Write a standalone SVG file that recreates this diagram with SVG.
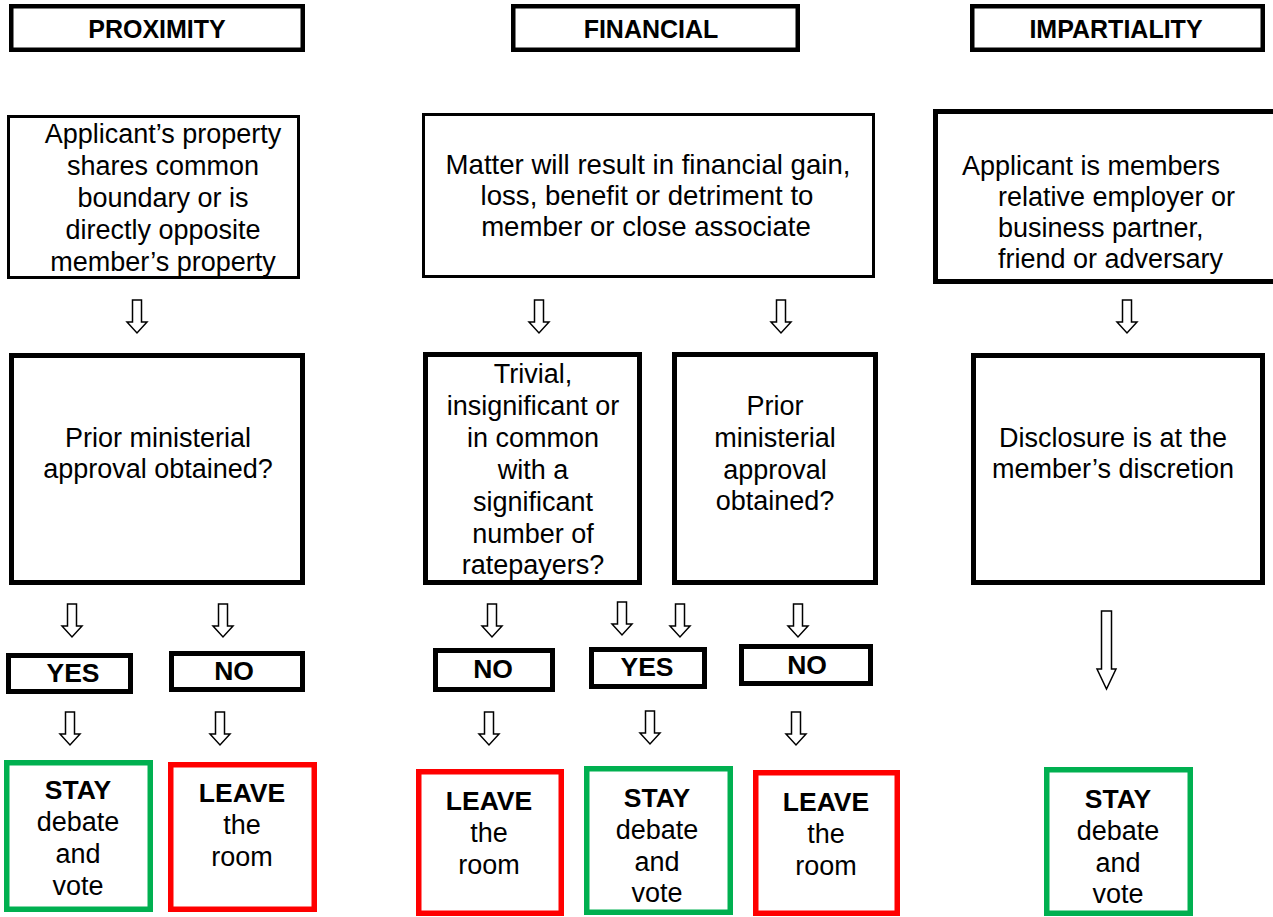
<svg xmlns="http://www.w3.org/2000/svg" xmlns:xlink="http://www.w3.org/1999/xlink" width="1273" height="917" viewBox="0 0 1273 917">
<style>
.bg{fill:#fff}
.hdr{fill:#fff;stroke:#000;stroke-width:4.5}
.q1{fill:#fff;stroke:#000;stroke-width:3}
.q2{fill:#fff;stroke:#000;stroke-width:5}
.yn{fill:#fff;stroke:#000;stroke-width:5}
.stay{fill:#fff;stroke:#00B050;stroke-width:5.5}
.leave{fill:#fff;stroke:#FF0000;stroke-width:5.5}
.arr{fill:#fff;stroke:#000;stroke-width:1.5;stroke-linejoin:miter}
text{font-family:"Liberation Sans",Arial,sans-serif;fill:#000}
.h{font-size:25px;font-weight:bold;text-anchor:middle}
.t{font-size:27px;text-anchor:middle}
.tf{font-size:27.6px;text-anchor:middle}
.tl{font-size:27px}
.b{font-size:26.5px;font-weight:bold;text-anchor:middle}
</style>
<defs>
<path id="a" d="M-4.5,0 H4.5 V22 H10 L0,33 L-10,22 H-4.5 Z"/>
</defs>
<rect class="bg" x="0" y="0" width="1273" height="917"/>

<g id="hdr-proximity"><rect class="hdr" x="11.25" y="6.25" width="291.5" height="43.5"/><text class="h" x="157" y="38">PROXIMITY</text></g>
<g id="hdr-financial"><rect class="hdr" x="513.25" y="6.25" width="284.5" height="43.5"/><text class="h" x="651" y="38">FINANCIAL</text></g>
<g id="hdr-impartiality"><rect class="hdr" x="972.25" y="6.25" width="290.5" height="43.5"/><text class="h" x="1116" y="38">IMPARTIALITY</text></g>

<g id="q-proximity"><rect class="q1" x="8.5" y="116.5" width="290" height="161"/>
<text class="t"><tspan x="163" y="143">Applicant’s property</tspan><tspan x="163" y="175">shares common</tspan><tspan x="163" y="207">boundary or is</tspan><tspan x="163" y="239">directly opposite</tspan><tspan x="163" y="271">member’s property</tspan></text></g>

<g id="q-financial"><rect class="q1" x="423.5" y="114.5" width="450" height="162"/>
<text class="tf"><tspan x="648" y="174">Matter will result in financial gain,</tspan><tspan x="647" y="205">loss, benefit or detriment to</tspan><tspan x="646" y="236">member or close associate</tspan></text></g>

<g id="q-impartiality"><rect x="935.5" y="111.5" width="345" height="170" fill="#fff" stroke="#000" stroke-width="5"/>
<text class="tl"><tspan x="962" y="175">Applicant is members</tspan><tspan x="998" y="206">relative employer or</tspan><tspan x="998" y="237">business partner,</tspan><tspan x="998" y="268">friend or adversary</tspan></text></g>

<g id="p-prior"><rect class="q2" x="11.5" y="355.5" width="291" height="227"/>
<text class="t"><tspan x="158" y="447">Prior ministerial</tspan><tspan x="158" y="478">approval obtained?</tspan></text></g>

<g id="f-trivial"><rect class="q2" x="425.5" y="354.5" width="214" height="228"/>
<text class="t"><tspan x="533" y="383">Trivial,</tspan><tspan x="533" y="415">insignificant or</tspan><tspan x="533" y="447">in common</tspan><tspan x="533" y="479">with a</tspan><tspan x="533" y="511">significant</tspan><tspan x="533" y="543">number of</tspan><tspan x="533" y="574">ratepayers?</tspan></text></g>

<g id="f-prior"><rect class="q2" x="674.5" y="354.5" width="201" height="228"/>
<text class="t"><tspan x="775" y="415">Prior</tspan><tspan x="775" y="447">ministerial</tspan><tspan x="775" y="479">approval</tspan><tspan x="775" y="510">obtained?</tspan></text></g>

<g id="i-disclosure"><rect class="q2" x="973.5" y="355.5" width="289" height="227"/>
<text class="t"><tspan x="1113" y="447">Disclosure is at the</tspan><tspan x="1113" y="478">member’s discretion</tspan></text></g>

<g id="p-yes"><rect class="yn" x="8.5" y="655.5" width="122" height="36"/><text class="b" x="73" y="682">YES</text></g>
<g id="p-no"><rect class="yn" x="171.5" y="653.5" width="131" height="36"/><text class="b" x="234" y="680">NO</text></g>
<g id="f-no1"><rect class="yn" x="435.5" y="650.5" width="117" height="39"/><text class="b" x="493" y="678">NO</text></g>
<g id="f-yes"><rect class="yn" x="591.5" y="649.5" width="113" height="37"/><text class="b" x="647" y="676">YES</text></g>
<g id="f-no2"><rect class="yn" x="741.5" y="646.5" width="129" height="37"/><text class="b" x="807" y="674">NO</text></g>

<g id="p-stay"><rect class="stay" x="6.75" y="762.75" width="143.5" height="146.5"/>
<text class="b" x="78" y="799">STAY</text><text class="t"><tspan x="78" y="831">debate</tspan><tspan x="78" y="863">and</tspan><tspan x="78" y="895">vote</tspan></text></g>
<g id="p-leave"><rect class="leave" x="170.75" y="764.75" width="143.5" height="144.5"/>
<text class="b" x="242" y="802">LEAVE</text><text class="t"><tspan x="242" y="834">the</tspan><tspan x="242" y="866">room</tspan></text></g>
<g id="f-leave1"><rect class="leave" x="418.75" y="771.75" width="142.5" height="141.5"/>
<text class="b" x="489" y="810">LEAVE</text><text class="t"><tspan x="489" y="842">the</tspan><tspan x="489" y="874">room</tspan></text></g>
<g id="f-stay"><rect class="stay" x="586.75" y="768.75" width="143.5" height="143.5"/>
<text class="b" x="657" y="807">STAY</text><text class="t"><tspan x="657" y="839">debate</tspan><tspan x="657" y="871">and</tspan><tspan x="657" y="902">vote</tspan></text></g>
<g id="f-leave2"><rect class="leave" x="755.75" y="772.75" width="141.5" height="140.5"/>
<text class="b" x="826" y="811">LEAVE</text><text class="t"><tspan x="826" y="843">the</tspan><tspan x="826" y="875">room</tspan></text></g>
<g id="i-stay"><rect class="stay" x="1046.75" y="769.75" width="143.5" height="143.5"/>
<text class="b" x="1118" y="808">STAY</text><text class="t"><tspan x="1118" y="840">debate</tspan><tspan x="1118" y="872">and</tspan><tspan x="1118" y="903">vote</tspan></text></g>

<g id="connectors">
<use xlink:href="#a" class="arr" x="137" y="300"/>
<use xlink:href="#a" class="arr" x="539" y="300"/>
<use xlink:href="#a" class="arr" x="781" y="300"/>
<use xlink:href="#a" class="arr" x="1127" y="300"/>
<use xlink:href="#a" class="arr" x="72" y="604"/>
<use xlink:href="#a" class="arr" x="223" y="604"/>
<use xlink:href="#a" class="arr" x="492" y="604"/>
<use xlink:href="#a" class="arr" x="622" y="602"/>
<use xlink:href="#a" class="arr" x="680" y="604"/>
<use xlink:href="#a" class="arr" x="798" y="604"/>
<use xlink:href="#a" class="arr" x="70" y="712"/>
<use xlink:href="#a" class="arr" x="220" y="712"/>
<use xlink:href="#a" class="arr" x="489" y="712"/>
<use xlink:href="#a" class="arr" x="650" y="711"/>
<use xlink:href="#a" class="arr" x="796" y="712"/>
<path class="arr" d="M1101.5,611 H1111.5 V669 H1116 L1106.5,689 L1097,669 H1101.5 Z"/>
</g>
</svg>
